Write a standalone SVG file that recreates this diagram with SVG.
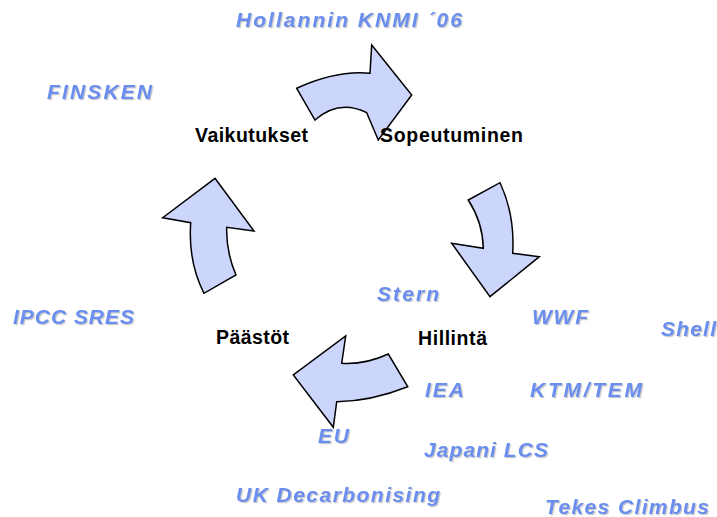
<svg xmlns="http://www.w3.org/2000/svg" width="717" height="517" viewBox="0 0 717 517">
<defs>
<filter id="sh" x="-5%" y="-20%" width="115%" height="150%">
<feDropShadow dx="1.2" dy="1.2" stdDeviation="0.6" flood-color="#888" flood-opacity="0.45"/>
</filter>
</defs>
<style>
.arr{fill:#ccd6fd;stroke:#000;stroke-width:1.5;stroke-linejoin:miter}
.ref{font-family:"Liberation Sans",Arial,sans-serif;font-weight:bold;font-style:italic;font-size:21px;fill:#6a8ef0;filter:url(#sh)}
.lab{font-family:"Liberation Sans",Arial,sans-serif;font-weight:bold;font-size:19.5px;fill:#000}
</style>
<rect width="717" height="517" fill="#fff"/>
<g id="connectors">
<path class="arr" d="M296.7,88.3 Q336.7,70 370,73.3 L371.7,45 L411.7,95 L378.3,140 L366.7,112.7 Q339,99 315,120 Z"/>
<path class="arr" d="M468.3,200 L500,182.7 Q515,215 512.7,253.3 L539.3,256.7 L490,296.7 L451.7,243.3 L483.3,248.3 Q482.8,222.4 468.3,200 Z"/>
<path class="arr" d="M388.3,354 Q365,364.8 341.7,363.3 L345.7,336 L293.3,375 L333.3,427.3 L336.7,401.7 Q371.2,401.2 407.7,386.7 Z"/>
<path class="arr" d="M215,178.3 L254,231 L226.7,227.3 Q226,252 236,275 L204,293.3 Q188,262 190.7,222.7 L162.7,217.7 Z"/>
</g>
<g id="vaikutukset"><text class="lab" x="195" y="142" textLength="113" lengthAdjust="spacing">Vaikutukset</text></g>
<g id="sopeutuminen"><text class="lab" x="380" y="142" textLength="143" lengthAdjust="spacing">Sopeutuminen</text></g>
<g id="paastot"><text class="lab" x="216" y="344" textLength="73" lengthAdjust="spacing">Päästöt</text></g>
<g id="hillinta"><text class="lab" x="418" y="345" textLength="69" lengthAdjust="spacing">Hillintä</text></g>
<g id="knmi"><text class="ref" x="236" y="27" textLength="226" lengthAdjust="spacing">Hollannin KNMI ´06</text></g>
<g id="finsken"><text class="ref" x="47" y="99" textLength="105" lengthAdjust="spacing">FINSKEN</text></g>
<g id="ipcc"><text class="ref" x="13" y="324" textLength="121" lengthAdjust="spacing">IPCC SRES</text></g>
<g id="stern"><text class="ref" x="377" y="301" textLength="62" lengthAdjust="spacing">Stern</text></g>
<g id="wwf"><text class="ref" x="532" y="324" textLength="56" lengthAdjust="spacing">WWF</text></g>
<g id="shell"><text class="ref" x="661" y="336" textLength="55" lengthAdjust="spacing">Shell</text></g>
<g id="iea"><text class="ref" x="425" y="397" textLength="39" lengthAdjust="spacing">IEA</text></g>
<g id="ktm"><text class="ref" x="530" y="397" textLength="112" lengthAdjust="spacing">KTM/TEM</text></g>
<g id="eu"><text class="ref" x="318" y="443" textLength="31" lengthAdjust="spacing">EU</text></g>
<g id="japani"><text class="ref" x="424" y="457" textLength="124" lengthAdjust="spacing">Japani LCS</text></g>
<g id="uk"><text class="ref" x="236" y="502" textLength="204" lengthAdjust="spacing">UK Decarbonising</text></g>
<g id="tekes"><text class="ref" x="545" y="514" textLength="164" lengthAdjust="spacing">Tekes Climbus</text></g>
</svg>
